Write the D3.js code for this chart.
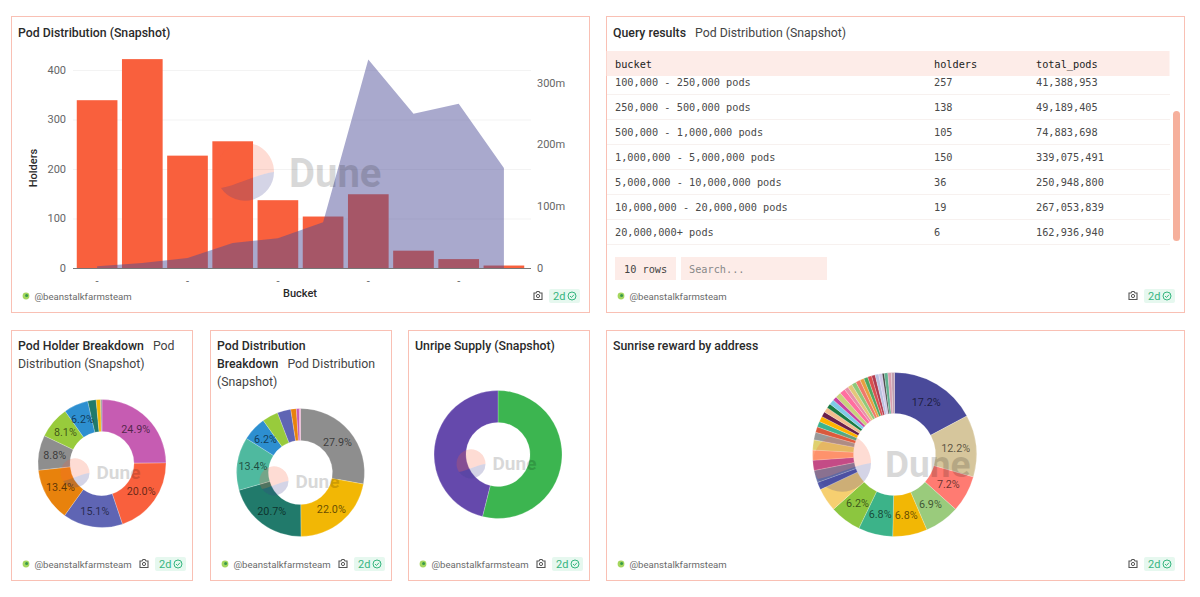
<!DOCTYPE html>
<html>
<head>
<meta charset="utf-8">
<script src="https://cdn.jsdelivr.net/npm/d3@7"></script>
<style>
body { margin: 0; background: #fff; }
svg { display: block; }
text { font-family: Roboto, sans-serif; }
.mono { font-family: "DejaVu Sans Mono", monospace; }
</style>
</head>
<body>
<div id="dash"></div>
<script>
// data
var bucketIds = ["b01", "b02", "b03", "b04", "b05", "b06", "b07", "b08", "b09", "b10"];
var holders = [340, 423, 228, 257, 138, 105, 150, 36, 19, 6];
var totalPods = [3600000, 9000000, 17000000, 41388953, 49189405, 74883698, 339075491, 250948800, 267053839, 162936940];
var leftTicks = [0, 100, 200, 300, 400];
var rightTicks = [0, 100000000, 200000000, 300000000];

var tableColumns = ["bucket", "holders", "total_pods"];
var tableBuckets = ["100,000 - 250,000 pods", "250,000 - 500,000 pods", "500,000 - 1,000,000 pods", "1,000,000 - 5,000,000 pods", "5,000,000 - 10,000,000 pods", "10,000,000 - 20,000,000 pods", "20,000,000+ pods"];
var tableHolders = ["257", "138", "105", "150", "36", "19", "6"];
var tablePods = ["41,388,953", "49,189,405", "74,883,698", "339,075,491", "250,948,800", "267,053,839", "162,936,940"];

var holderSlices = [423, 340, 257, 228, 150, 138, 105, 36, 19, 6];
var holderColors = ["#c65cb2", "#f9603d", "#5f65b4", "#e8820c", "#8e8e8e", "#98cb3c", "#2d8fd0", "#217a6b", "#f2b705", "#9aa0a0"];

var podSlices = [339075491, 267053839, 250948800, 162936940, 74883698, 49189405, 41388953, 17000000, 9000000, 3600000];
var podColors = ["#8e8e8e", "#f2b705", "#217a6b", "#4fb99f", "#2d8fd0", "#98cb3c", "#5f65b4", "#e8820c", "#c65cb2", "#f08cc0"];

var unripeSlices = [53.9, 46.1];
var unripeColors = ["#3cb550", "#6549ac"];

var sunriseSlices = [17.2, 12.2, 7.2, 6.9, 6.8, 6.8, 6.2, 4.6, 1.5, 2.4, 2, 2, 2, 1.5, 1.1, 1.1, 1.1, 1, 1, 0.9, 1, 0.8, 1.1, 1.1, 0.8, 0.9, 0.9, 0.9, 0.8, 0.8, 0.8, 0.7, 0.7, 0.7, 0.4, 0.7, 0.7, 0.6];
var sunriseColors = ["#4a4a9a", "#d6c69c", "#ff7b72", "#9acb7c", "#f2b705", "#3cb389", "#8cc63f", "#f6cf70", "#5157a8", "#6b76a8", "#b5469b", "#ffa07a", "#dfd06f", "#999999", "#d9593d", "#3cb38f", "#ffb300", "#6a1f4a", "#f2bd8e", "#1a7a43", "#7ecbe8", "#c843a0", "#c9d27c", "#ff6fa0", "#e890a8", "#e4c77a", "#8fc97a", "#ef7a6a", "#e8a040", "#4fa860", "#d94f4f", "#b03a4f", "#b8c0e0", "#d0c8e8", "#444444", "#5fb08f", "#d8a0b0", "#c0a0b0"];

var svg = d3.select("#dash").append("svg")
    .attr("width", 1200)
    .attr("height", 597);

var ink = "#2a2a2a", pale = "#fdece8";

// panel frame, title and footer
function panel(x0, x1, y0, y1, lines) {
    svg.append("rect")
        .attr("x", x0 + 0.5).attr("y", y0 + 0.5)
        .attr("width", x1 - x0).attr("height", y1 - y0)
        .attr("fill", "#fff").attr("stroke", "#f9c0b4");

    lines.forEach(function(line, i) {
        var t = svg.append("text")
            .attr("x", x0 + 7)
            .attr("y", (y0 < 100 ? y0 + 21 : y0 + 20) + i * 18)
            .attr("font-size", 12.3)
            .attr("fill", ink);
        t.append("tspan").attr("font-weight", 500).text(line[0]);
        if (line[1]) {
            t.append("tspan").attr("dx", line[0] ? 9 : 0).attr("fill", "#444").text(line[1]);
        }
    });

    var fy = y1 - 16;
    svg.append("circle").attr("cx", x0 + 15).attr("cy", fy).attr("r", 3.4).attr("fill", "#a4d65e");
    svg.append("circle").attr("cx", x0 + 15.6).attr("cy", fy - 0.6).attr("r", 1.5).attr("fill", "#3a9a4a");
    svg.append("text")
        .attr("x", x0 + 23.5).attr("y", fy + 3.6)
        .attr("font-size", 9.6).attr("fill", "#6a6a6a")
        .text("@beanstalkfarmsteam");

    // wide panels keep the icons a little further in
    var inset = x1 - x0 > 300 ? 3 : 0;

    // camera icon
    var cx = x1 - 48 - inset;
    svg.append("path")
        .attr("d", "M" + (cx - 4) + "," + (fy - 3) + "h2l1,-1.5h2l1,1.5h2v6.5h-8z")
        .attr("fill", "none").attr("stroke", "#555").attr("stroke-width", 1.1);
    svg.append("circle").attr("cx", cx).attr("cy", fy).attr("r", 1.6)
        .attr("fill", "none").attr("stroke", "#555");

    // freshness badge
    var bx = x1 - 37 - inset;
    svg.append("rect")
        .attr("x", bx).attr("y", fy - 7)
        .attr("width", 31).attr("height", 14).attr("rx", 2)
        .attr("fill", "#e6f8ef");
    svg.append("text")
        .attr("x", bx + 4).attr("y", fy + 3.8)
        .attr("font-size", 11).attr("fill", "#35b57f")
        .text("2d");
    svg.append("circle").attr("cx", bx + 23).attr("cy", fy).attr("r", 4)
        .attr("fill", "none").attr("stroke", "#35b57f");
    svg.append("path")
        .attr("d", "M" + (bx + 21) + "," + fy + "l1.5,1.5l2.5,-2.8")
        .attr("fill", "none").attr("stroke", "#35b57f");
}

// Dune logo and word drawn over the chart
function watermark(cx, cy, r, textX, baseline, size) {
    var g = svg.append("g").attr("pointer-events", "none");
    var k = r / 29;
    var lx = cx - 24 * k, ly = cy + 16 * k;
    var curve = "C" + (cx - 10 * k) + "," + (cy + 14 * k) + " " + (cx + 12 * k) + "," + (cy + 2 * k) + " " + (cx + r) + "," + cy + "z";
    g.append("path")
        .attr("d", "M" + (cx + r) + "," + cy + "A" + r + "," + r + " 0 1 0 " + lx + "," + ly + curve)
        .attr("fill", "#f9603d").attr("opacity", 0.22);
    g.append("path")
        .attr("d", "M" + (cx + r) + "," + cy + "A" + r + "," + r + " 0 0 1 " + lx + "," + ly + curve)
        .attr("fill", "#3c3c8c").attr("opacity", 0.22);
    g.append("text")
        .attr("x", textX).attr("y", baseline)
        .attr("font-size", size).attr("font-weight", 700)
        .attr("fill", "#000").attr("opacity", 0.15)
        .text("Dune");
}

function donut(values, colors, cx, cy, outer, inner, labelled) {
    var total = d3.sum(values);
    var arcs = d3.pie().sort(null).value(function(d) { return d; })(values);
    var arc = d3.arc().innerRadius(inner).outerRadius(outer);
    var labelArc = d3.arc().innerRadius((inner + outer) / 2).outerRadius((inner + outer) / 2);
    var g = svg.append("g").attr("transform", "translate(" + cx + "," + cy + ")");

    g.selectAll("path")
        .data(arcs)
        .enter()
        .append("path")
        .attr("d", arc)
        .attr("fill", function(d, i) { return colors[i]; })
        .attr("stroke", "#fff")
        .attr("stroke-opacity", 0.45)
        .attr("stroke-width", 0.5);

    if (!labelled) return;

    // only the big slices carry a label
    g.selectAll("text")
        .data(arcs.filter(function(d) { return d.value / total >= 0.06; }))
        .enter()
        .append("text")
        .attr("transform", function(d) { return "translate(" + labelArc.centroid(d) + ")"; })
        .attr("text-anchor", "middle")
        .attr("dy", "0.35em")
        .attr("font-size", 10.8)
        .attr("fill", "#000")
        .attr("fill-opacity", 0.6)
        .text(function(d) { return (d.value / total * 100).toFixed(1) + "%"; });
}

// ---- panels
panel(11, 589, 16, 312, [["Pod Distribution (Snapshot)"]]);
panel(606, 1184, 16, 312, [["Query results", "Pod Distribution (Snapshot)"]]);
panel(11, 192, 330, 580, [["Pod Holder Breakdown", "Pod"], ["", "Distribution (Snapshot)"]]);
panel(210, 391, 330, 580, [["Pod Distribution"], ["Breakdown", "Pod Distribution"], ["", "(Snapshot)"]]);
panel(408, 589, 330, 580, [["Unripe Supply (Snapshot)"]]);
panel(606, 1184, 330, 580, [["Sunrise reward by address"]]);

// ---- bar + area chart
var x = d3.scaleBand()
    .domain(bucketIds)
    .range([74.5, 526.5])
    .paddingInner(0.1)
    .paddingOuter(0.05);

var yLeft = d3.scaleLinear().domain([0, 400]).range([268.5, 70.5]);
var yRight = d3.scaleLinear().domain([0, 300000000]).range([268.5, 83.5]);

svg.append("g")
    .selectAll("line")
    .data(leftTicks.slice(1))
    .enter()
    .append("line")
    .attr("x1", 73).attr("x2", 531)
    .attr("y1", function(d) { return yLeft(d); })
    .attr("y2", function(d) { return yLeft(d); })
    .attr("stroke", "#f3f3f3");

svg.append("g")
    .selectAll("rect")
    .data(holders)
    .enter()
    .append("rect")
    .attr("x", function(d, i) { return x(bucketIds[i]); })
    .attr("y", function(d) { return yLeft(d); })
    .attr("width", x.bandwidth())
    .attr("height", function(d) { return yLeft(0) - yLeft(d); })
    .attr("fill", "#f9603d");

var area = d3.area()
    .x(function(d, i) { return x(bucketIds[i]) + x.bandwidth() / 2; })
    .y0(yRight(0))
    .y1(function(d) { return yRight(d); });

svg.append("path")
    .datum(totalPods)
    .attr("d", area)
    .attr("fill", "#4b4b96")
    .attr("fill-opacity", 0.48);

function styleAxis(g) {
    g.select(".domain").remove();
    g.selectAll(".tick line").remove();
    g.selectAll("text").attr("font-size", 11).attr("fill", "#666").attr("font-family", "Roboto, sans-serif");
}

svg.append("g")
    .attr("transform", "translate(73,-1)")
    .call(d3.axisLeft(yLeft).tickValues(leftTicks).tickSize(0).tickPadding(7))
    .call(styleAxis);

svg.append("g")
    .attr("transform", "translate(531,-1)")
    .call(d3.axisRight(yRight).tickValues(rightTicks).tickSize(0).tickPadding(6)
        .tickFormat(function(d) { return d === 0 ? "0" : d / 1000000 + "m"; }))
    .call(styleAxis);

svg.append("g")
    .attr("transform", "translate(0,268.5)")
    .call(d3.axisBottom(x)
        .tickValues(bucketIds.filter(function(d, i) { return i % 2 === 0; }))
        .tickSize(0).tickPadding(9)
        .tickFormat(function() { return "-"; }))
    .call(styleAxis);

svg.append("line")
    .attr("x1", 73).attr("x2", 531)
    .attr("y1", 268.5).attr("y2", 268.5)
    .attr("stroke", "#777");

svg.append("text")
    .attr("transform", "translate(37,168)rotate(-90)")
    .attr("text-anchor", "middle")
    .attr("font-size", 11).attr("font-weight", 500).attr("fill", ink)
    .text("Holders");

svg.append("text")
    .attr("x", 300).attr("y", 297)
    .attr("text-anchor", "middle")
    .attr("font-size", 11).attr("font-weight", 500).attr("fill", ink)
    .text("Bucket");

watermark(245, 172, 29, 289, 187, 40);

// ---- table
var colX = [615, 934, 1036];
svg.append("rect")
    .attr("x", 606.5).attr("y", 51)
    .attr("width", 563).attr("height", 25)
    .attr("fill", pale);

svg.append("g")
    .selectAll("text")
    .data(tableColumns)
    .enter()
    .append("text")
    .attr("class", "mono")
    .attr("x", function(d, i) { return colX[i]; })
    .attr("y", 67.5)
    .attr("font-size", 10.25)
    .attr("fill", "#222")
    .text(function(d) { return d; });

var rowY = d3.scalePoint().domain(tableBuckets).range([82, 232]);

svg.append("g")
    .selectAll("line")
    .data(tableBuckets)
    .enter()
    .append("line")
    .attr("x1", 607).attr("x2", 1170)
    .attr("y1", function(d) { return rowY(d) + 12.5; })
    .attr("y2", function(d) { return rowY(d) + 12.5; })
    .attr("stroke", "#f7f1ef");

[tableBuckets, tableHolders, tablePods].forEach(function(col, c) {
    svg.append("g")
        .selectAll("text")
        .data(col)
        .enter()
        .append("text")
        .attr("class", "mono")
        .attr("x", colX[c])
        .attr("y", function(d, i) { return rowY(tableBuckets[i]) + 3.6; })
        .attr("font-size", 10.25)
        .attr("fill", "#4a4a4a")
        .text(function(d) { return d; });
});

// scrollbar
svg.append("rect")
    .attr("x", 1173).attr("y", 111)
    .attr("width", 7).attr("height", 130).attr("rx", 3.5)
    .attr("fill", "#f6b09c");

// row count and search box
svg.append("rect").attr("x", 615).attr("y", 257).attr("width", 61).attr("height", 23).attr("fill", pale);
svg.append("rect").attr("x", 681).attr("y", 257).attr("width", 146).attr("height", 23).attr("fill", pale);
svg.append("text").attr("class", "mono")
    .attr("x", 624).attr("y", 272.5)
    .attr("font-size", 10.25).attr("fill", "#444")
    .text("10 rows");
svg.append("text").attr("class", "mono")
    .attr("x", 689).attr("y", 272.5)
    .attr("font-size", 10.25).attr("fill", "#888")
    .text("Search...");

// ---- donuts
donut(holderSlices, holderColors, 102, 463.5, 64, 32, true);
watermark(75, 473, 14.5, 96.5, 479, 19);

donut(podSlices, podColors, 300.5, 472.5, 64, 32, true);
watermark(274, 481, 14.5, 295.5, 488, 19);

donut(unripeSlices, unripeColors, 498, 454.5, 64, 32, false);
watermark(471, 464, 14.5, 492.5, 470, 19);

donut(sunriseSlices, sunriseColors, 894.5, 454.5, 82, 41, true);
watermark(842, 463, 29, 885, 477, 37);
</script>
</body>
</html>
